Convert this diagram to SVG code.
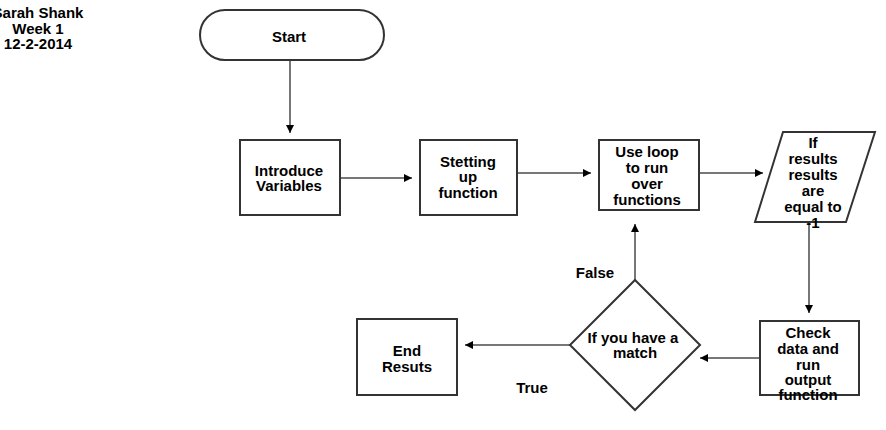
<svg xmlns="http://www.w3.org/2000/svg" width="886" height="430" viewBox="0 0 886 430">
<style>
text{font-family:"Liberation Sans",Arial,sans-serif;font-weight:bold;font-size:15px;fill:#000;text-anchor:middle}
.n{fill:#fff;stroke:#333;stroke-width:2}
.c{fill:none;stroke:#777;stroke-width:2}
</style>
<defs>
<marker id="ah" markerUnits="userSpaceOnUse" markerWidth="10" markerHeight="10" refX="9" refY="5" orient="auto">
<path d="M1,1 L9,5 L1,9 Z" fill="#000"/>
</marker>
</defs>
<rect width="886" height="430" fill="#fff"/>
<g id="title">
<text x="38" y="18">Sarah Shank</text>
<text x="38" y="34">Week 1</text>
<text x="38" y="49">12-2-2014</text>
</g>
<g id="connectors">
<path class="c" d="M290,60 V133" marker-end="url(#ah)"/>
<path class="c" d="M340,178 H412" marker-end="url(#ah)"/>
<path class="c" d="M517,173 H591" marker-end="url(#ah)"/>
<path class="c" d="M699,173 H763" marker-end="url(#ah)"/>
<path class="c" d="M809,222 V313" marker-end="url(#ah)"/>
<path class="c" d="M760,358 H700" marker-end="url(#ah)"/>
<path class="c" d="M635,280 V224" marker-end="url(#ah)"/>
<path class="c" d="M570,345 H465" marker-end="url(#ah)"/>
<text x="595" y="278">False</text>
<text x="532" y="393">True</text>
</g>
<g id="start">
<rect class="n" x="200" y="10" width="184" height="50" rx="25" ry="25"/>
<text x="289" y="42">Start</text>
</g>
<g id="introduce">
<rect class="n" x="240" y="140" width="100" height="75"/>
<text x="289" y="176">Introduce</text>
<text x="289" y="191">Variables</text>
</g>
<g id="setup">
<rect class="n" x="420" y="140" width="97" height="75"/>
<text x="468" y="167">Stetting</text>
<text x="468" y="182">up</text>
<text x="468" y="198">function</text>
</g>
<g id="loop">
<rect class="n" x="599" y="140" width="100" height="70"/>
<text x="647" y="157">Use loop</text>
<text x="647" y="173">to run</text>
<text x="647" y="189">over</text>
<text x="647" y="205">functions</text>
</g>
<g id="ifresults">
<polygon class="n" points="783,132 875,132 846,222 755,222"/>
<text x="813" y="148">If</text>
<text x="813" y="164">results</text>
<text x="813" y="180">results</text>
<text x="813" y="196">are</text>
<text x="813" y="212">equal to</text>
<text x="813" y="228">-1</text>
</g>
<g id="check">
<rect class="n" x="760" y="321" width="99" height="74"/>
<text x="808" y="338">Check</text>
<text x="808" y="354">data and</text>
<text x="808" y="370">run</text>
<text x="808" y="385">output</text>
<text x="808" y="400">function</text>
</g>
<g id="match">
<polygon class="n" points="635,280 700,345 635,410 570,345"/>
<text x="633" y="343">If you have a</text>
<text x="635" y="358">match</text>
</g>
<g id="end">
<rect class="n" x="357" y="319" width="100" height="76"/>
<text x="407" y="356">End</text>
<text x="407" y="372">Resuts</text>
</g>
</svg>
